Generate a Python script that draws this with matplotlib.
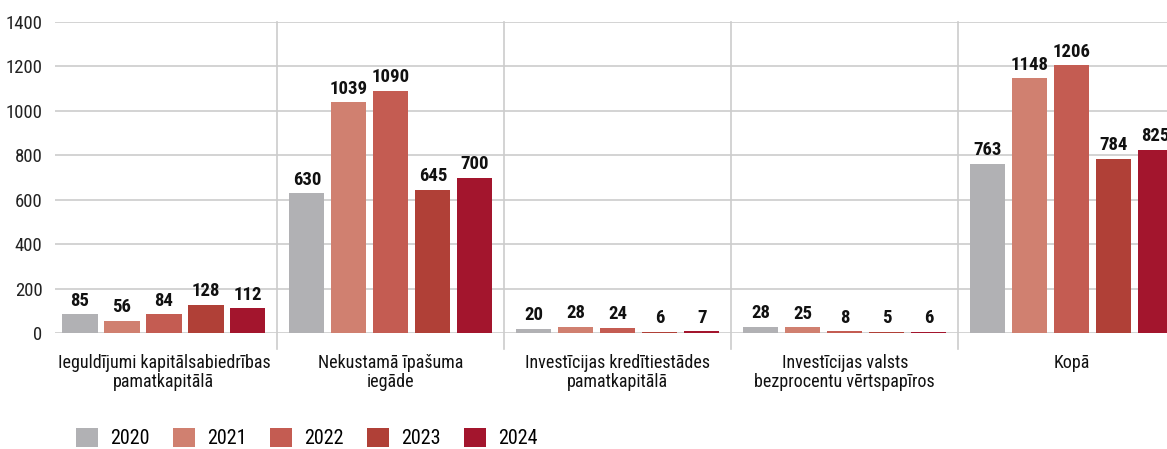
import matplotlib
matplotlib.use("Agg")
import matplotlib.pyplot as plt
import numpy as np

plt.rcParams['font.family'] = ['Roboto Condensed', 'DejaVu Sans']

categories = ["Ieguldījumi kapitālsabiedrības\npamatkapitālā",
              "Nekustamā īpašuma\niegāde",
              "Investīcijas kredītiestādes\npamatkapitālā",
              "Investīcijas valsts\nbezprocentu vērtspapīros",
              "Kopā"]
years = ["2020", "2021", "2022", "2023", "2024"]
v2020 = [85, 630, 20, 28, 763]
v2021 = [56, 1039, 28, 25, 1148]
v2022 = [84, 1090, 24, 8, 1206]
v2023 = [128, 645, 6, 5, 784]
v2024 = [112, 700, 7, 6, 825]
series = [v2020, v2021, v2022, v2023, v2024]
colors = ["#b1b1b4", "#d08070", "#c45c52", "#b04037", "#a3152d"]

fig = plt.figure(figsize=(11.67, 4.49), dpi=100)
ax = fig.add_axes([55/1167, 1 - 333/449, 1 - 55/1167, (333 - 22)/449])

x = np.arange(len(categories))
step = 0.185
width = 0.155
for i, (vals, col, yr) in enumerate(zip(series, colors, years)):
    pos = x + (i - 2) * step
    ax.bar(pos, vals, width=width, color=col, label=yr, zorder=3)
    for xb, v in zip(pos, vals):
        ax.text(xb, v + 20, str(v), ha="center", va="bottom",
                fontsize=13.5, fontweight="bold", color="#111111", zorder=4)

ax.set_xlim(-0.48, 4.42)
ax.set_ylim(0, 1400)
ax.set_yticks(range(0, 1401, 200))
ax.tick_params(axis="y", length=0, pad=9, labelsize=13.5, labelcolor="#222222")
ax.set_xticks(x)
ax.set_xticklabels(categories, fontsize=13, color="#111111")
ax.tick_params(axis="x", length=0, pad=15)
for lbl in ax.get_xticklabels():
    lbl.set_linespacing(1.1)
ax.grid(axis="y", color="#cccccc", linewidth=1.2, zorder=0)
for s in ax.spines.values():
    s.set_visible(False)

for b in x[:-1] + 0.5:
    ax.plot([b, b], [-0.05, 1.0], transform=ax.get_xaxis_transform(),
            color="#cccccc", linewidth=1.2, clip_on=False, zorder=1)

ax.legend(loc="center left", bbox_to_anchor=(76/1167, 1 - 438/449), bbox_transform=fig.transFigure,
          ncol=5, frameon=False, fontsize=14.5, handlelength=1.1, handleheight=1.1,
          columnspacing=1.15, handletextpad=0.6, borderpad=0, borderaxespad=0)

fig.savefig("out.png", dpi=100)
